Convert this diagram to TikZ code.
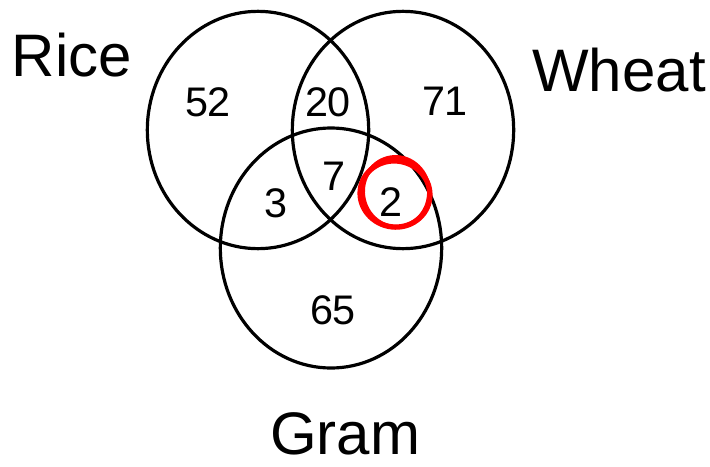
\documentclass[tikz,border=0pt]{standalone}
\usepackage{fontspec}
\setmainfont{Liberation Sans}
\usetikzlibrary{shapes.geometric}

\begin{document}
\begin{tikzpicture}[x=0.75pt, y=-0.75pt, every node/.style={inner sep=0pt}]
    \tikzstyle{crop}=[draw, ellipse, line width=2.4pt, minimum width=166pt, minimum height=178pt]
    \tikzstyle{croplabel}=[font=\fontsize{45}{48}\selectfont]
    \tikzstyle{count}=[font=\fontsize{31}{34}\selectfont]
    \tikzstyle{scribble}=[draw=red, line width=4pt]

    \useasboundingbox (0,0) rectangle (710,467);

    \node[crop] (rice) at (258,130) {};
    \node[crop] (wheat) at (403,130) {};
    \node[crop, minimum height=180pt] (gram) at (331,248) {};

    \node[croplabel] (riceL) at (72,55) {Rice};
    \node[croplabel] (wheatL) at (619,70) {Wheat};
    \node[croplabel] (gramL) at (345,434) {Gram};

    \node[count] (onlyR) at (208,102) {52};
    \node[count] (rw) at (328,102) {20};
    \node[count] (onlyW) at (445,101) {71};
    \node[count] (rwg) at (334,176) {7};
    \node[count] (rg) at (276,203) {3};
    \node[count] (wg) at (391,202) {2};
    \node[count] (onlyG) at (333,310) {65};

    % red ring round the 2
    \draw[scribble, rotate around={-12:(395,194)}] (395,194) ellipse [x radius=35, y radius=33];
    \draw[scribble, line width=3pt, rotate around={8:(396,192)}] (396,192) ellipse [x radius=33, y radius=35];
\end{tikzpicture}
\end{document}
